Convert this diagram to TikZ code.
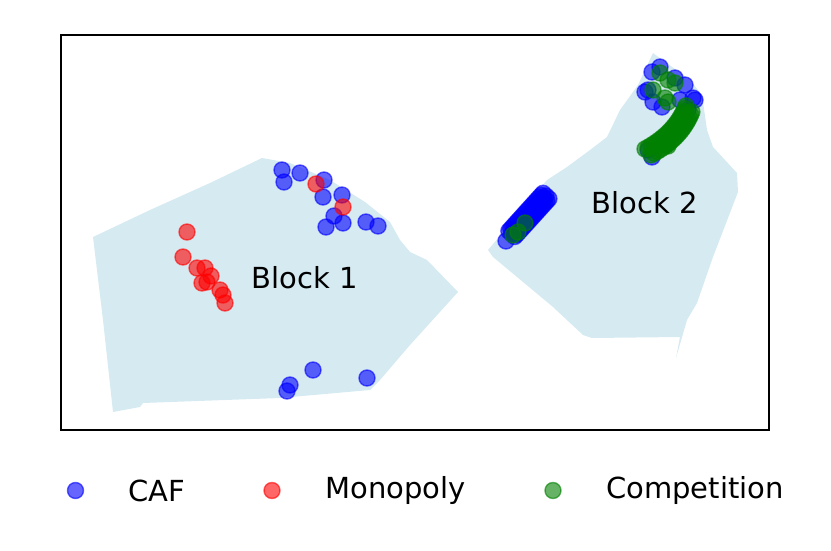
\documentclass[tikz,border=0pt]{standalone}
\usepackage{fontspec}
\setmainfont{DejaVu Sans}
\usepackage{tikz}
\usetikzlibrary{positioning}

\definecolor{regionblue}{RGB}{214,234,241}
\definecolor{mplgreen}{RGB}{0,128,0}

\begin{document}
\begin{tikzpicture}
[
x=1pt, y=-1pt,
dot-a/.style={line width=1.4pt, fill opacity=0.6, draw opacity=0.6},
caf/.style={dot-a, draw=blue, fill=blue},
mono/.style={dot-a, draw=red, fill=red},
comp/.style={dot-a, draw=mplgreen, fill=mplgreen},
region-a/.style={fill=regionblue, draw=none},
text-a/.style={black, font=\fontsize{29}{35}\selectfont},
mark-a/.style={circle, minimum size=16pt, inner sep=0pt, line width=1.4pt, fill opacity=0.6, draw opacity=0.6},
]
\useasboundingbox (0,0) rectangle (831,551);

% regions
\fill [region-a] (93,237) -- (150,210) -- (210,183) -- (262,158) -- (290,163)
  -- (330,180) -- (365,202) -- (390,222) -- (400,240) -- (410,252) -- (427,260)
  -- (458,292) -- (410,345) -- (380,380) -- (370,390) -- (280,398) -- (143,403)
  -- (140,407) -- (113,412) -- (103,320) -- cycle;
\fill [region-a] (653,53) -- (638,85) -- (620,110) -- (607,137) -- (590,150)
  -- (567,167) -- (547,180) -- (488,250) -- (493,257) -- (517,277) -- (553,307)
  -- (583,335) -- (592,338) -- (680,337) -- (676,358) -- (687,320) -- (697,303)
  -- (713,257) -- (738,192) -- (737,173) -- (713,147) -- (707,130) -- (702,95)
  -- (690,80) -- cycle;

% block 1
\foreach \p in {(282,170),(284,182),(300,173),(324,180),(323,197),(342,195),
  (334,216),(326,227),(343,223),(366,222),(378,226),
  (313,370),(290,385),(287,391),(367,378)}
  \draw [caf] \p circle [radius=8pt];
\foreach \p in {(316,184),(343,207),(187,232),(183,257),(197,268),(205,268),
  (211,276),(202,283),(207,282),(220,290),(223,295),(225,303)}
  \draw [mono] \p circle [radius=8pt];

% block 2, lower cluster
\foreach \t in {0.1,0.15,...,1}
  \foreach \o in {-4,0,4}
    \draw [caf] (508+38*\t+0.73*\o, 238-42*\t+0.68*\o) circle [radius=8pt];
\draw [caf] (506,241) circle [radius=8pt];
\foreach \p in {(513,235),(518,232),(525,223)}
  \draw [comp] \p circle [radius=8pt];

% block 2, upper cluster
\foreach \p in {(652,72),(660,67),(675,78),(685,85),(648,90),(645,92),(653,102),(662,107),
  (693,98),(695,100),(680,100),(688,110),(648,150),(652,157)}
  \draw [caf] \p circle [radius=8pt];
\foreach \p in {(660,73),(668,80),(675,83),(653,90),(665,98),(668,102),(668,146)}
  \draw [comp] \p circle [radius=8pt];
\foreach \t [evaluate=\t as \gx using {(1-\t)^2*648+2*\t*(1-\t)*680+\t^2*690},
             evaluate=\t as \gy using {(1-\t)^2*152+2*\t*(1-\t)*135+\t^2*106}]
  in {0,0.05,...,1}
  \foreach \o in {-3,3}
    \draw [comp] (\gx+\o, \gy+\o) circle [radius=8pt];

% frame and labels
\draw [line width=2pt] (61,35) rectangle (769,430);
\node (b1) [text-a] at (305,278) {Block 1};
\node (b2) [text-a] at (645,203) {Block 2};

% legend
\node (m1) [mark-a, draw=blue, fill=blue]           at (75.5,490.5) {};
\node (t1) [text-a, right = 41pt of m1]             {CAF};
\node (m2) [mark-a, draw=red, fill=red]             at (272,490.5) {};
\node (t2) [text-a, right = 41pt of m2]             {Monopoly};
\node (m3) [mark-a, draw=mplgreen, fill=mplgreen]   at (553,490.5) {};
\node (t3) [text-a, right = 41pt of m3]             {Competition};
\end{tikzpicture}
\end{document}
